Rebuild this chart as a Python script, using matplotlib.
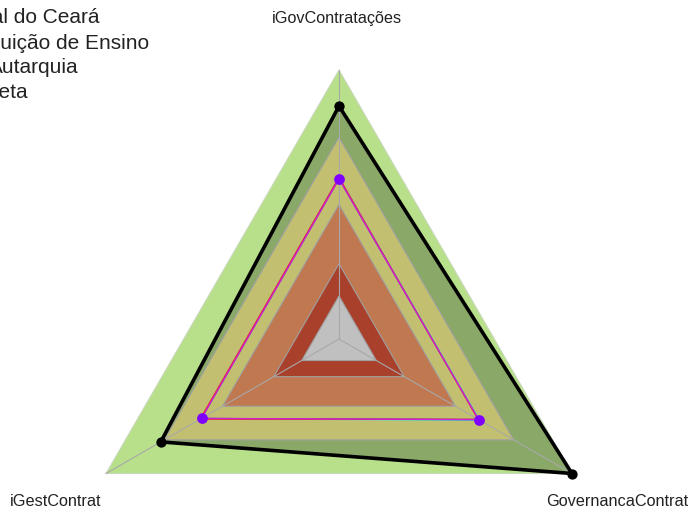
import numpy as np
import matplotlib

matplotlib.use("Agg")
import matplotlib.pyplot as plt

plt.rcParams["font.family"] = ["Liberation Sans", "DejaVu Sans"]

# axes of the radar, clockwise from top
axis_labels = ["iGovContratações", "iGestContrat", "GovernancaContrat"]
axis_angles_deg = [90, 210, 330]

# background bands (outer radius of each, 0..1)
band_levels = [1.0, 0.75, 0.5, 0.28, 0.16]
band_colors = ["#b8e08a", "#c2c070", "#c07850", "#a8402c", "#c0c0c0"]

# series (values per axis, same order as axis_labels)
series_names = ["Instituto Federal do Ceará", "Instituição de Ensino", "Autarquia", "Meta"]
ifce_values = [0.595, 0.59, 0.60]
inst_values = [0.60, 0.592, 0.598]
autarquia_values = [0.598, 0.595, 0.602]
red_values = [0.60, 0.596, 0.597]
green_values = [0.597, 0.591, 0.601]
meta_values = [0.866, 0.765, 1.0]

# pixel geometry of the reference
W, H = 691, 513
CX, CY, R = 339, 339, 269

angles = np.deg2rad(axis_angles_deg)


def xy(values):
    v = np.asarray(values, dtype=float)
    return v * np.cos(angles), v * np.sin(angles)


def closed(a):
    return np.append(a, a[0])


fig = plt.figure(figsize=(W / 100, H / 100), dpi=100)
ax = fig.add_axes([0, 0, 1, 1])
ax.set_xlim(-CX / R, (W - CX) / R)
ax.set_ylim(-(H - CY) / R, CY / R)
ax.axis("off")

# outer band first, then the Meta fill, then inner bands on top
lvl_x, lvl_y = xy([band_levels[0]] * 3)
ax.fill(lvl_x, lvl_y, color=band_colors[0], ec="#c8d8b8", lw=0.8, zorder=1)
mx, my = xy(meta_values)
ax.fill(mx, my, color="#8aa868", lw=0, zorder=2)
for i, (lvl, col) in enumerate(zip(band_levels[1:], band_colors[1:])):
    bx, by = xy([lvl] * 3)
    ax.fill(bx, by, color=col, ec="#a0a0a0", lw=0.8, zorder=3 + i)

# spokes
for a in angles:
    ax.plot([0, np.cos(a)], [0, np.sin(a)], color="#a8a8a8", lw=0.8, zorder=10)

# overlapping institution series
px, py = xy(ifce_values)
ax.plot(closed(px), closed(py), color="#8000ff", lw=0.8, zorder=11)

line_series = [
    (green_values, "#20e020"),
    (autarquia_values, "#20e0ff"),
    (inst_values, "#4060ff"),
    (red_values, "#ff2020"),
    (ifce_values, "#d020d0"),
]
for vals, col in line_series:
    sx, sy = xy(vals)
    ax.plot(closed(sx), closed(sy), color=col, lw=0.9, zorder=12)

ax.scatter(px, py, s=60, color="#8000ff", zorder=13, linewidths=0)

# Meta
ax.plot(closed(mx), closed(my), color="black", lw=2.6, zorder=14,
        solid_joinstyle="miter")
ax.scatter(mx, my, s=55, color="black", zorder=15, linewidths=0)

# axis labels
label_pos = [(337, 18), (56, 501), (617, 501)]
for text, (lx, ly) in zip(axis_labels, label_pos):
    fig.text(lx / W, 1 - ly / H, text, ha="center", va="center",
             fontsize=11.7, color="#222222")

# legend (cut off at the left edge in the reference)
legend_right = [100, 149, 79, 28]
legend_base = [23, 49, 73, 98]
for name, rx, by in zip(series_names, legend_right, legend_base):
    fig.text(rx / W, 1 - by / H, name, ha="right", va="baseline",
             fontsize=15, color="#222222")

fig.savefig("out.png", dpi=100)
